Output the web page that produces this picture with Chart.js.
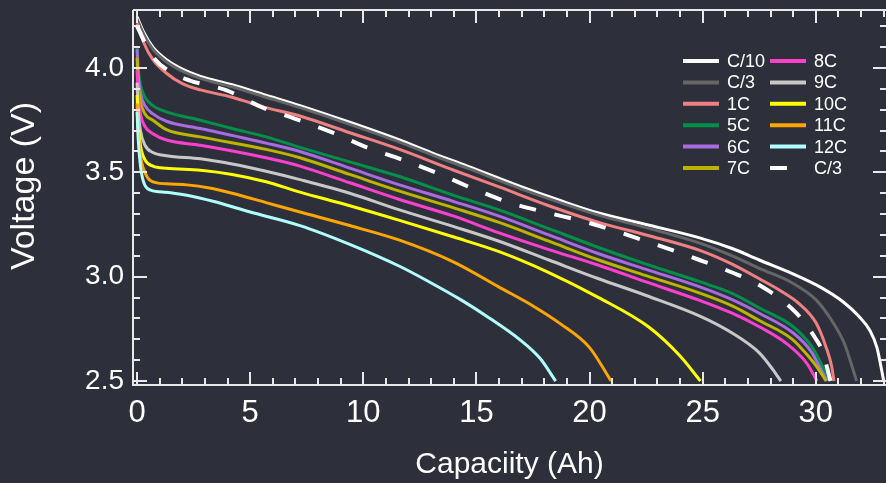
<!DOCTYPE html>
<html>
<head>
<meta charset="utf-8">
<title>Discharge curves</title>
<script src="https://cdn.jsdelivr.net/npm/chart.js@4.4.0/dist/chart.umd.min.js"></script>
<style>
  html, body { margin: 0; padding: 0; background: #2d2f3b; }
  #wrap { width: 886px; height: 483px; }
  canvas { display: block; background: #2d2f3b; }
</style>
</head>
<body>
<div id="wrap"><canvas id="dischargeChart" width="886" height="483"></canvas></div>
<script>
// Axis ranges (Ah / V)
const X_MIN = -0.18, X_MAX = 33.1;
const Y_MIN = 2.481, Y_MAX = 4.278;

// Series labels in legend order
const seriesLabels = ['C/10', 'C/3', '1C', '5C', '6C', '7C', '8C', '9C', '10C', '11C', '12C', 'C/3'];
const seriesColors = ['#ffffff', '#666666', '#f08080', '#00904a', '#a66ce0', '#bdb400',
                      '#ff40cc', '#c8c8c8', '#ffff00', '#ffa500', '#b0ffff', '#ffffff'];

// Capacity (Ah), voltage (V) pairs
const rateC10 = [[0,4.245],[0.3,4.17],[0.7,4.10],[1.3,4.04],[2,3.995],[2.8,3.96],[4.2,3.92],[5.7,3.87],[7.2,3.82],
  [9.4,3.74],[11.6,3.655],[13,3.595],[14.6,3.53],[17,3.43],[18.7,3.365],[20.4,3.305],[22.5,3.25],[24.9,3.185],
  [26.3,3.135],[27.5,3.08],[28.96,3.015],[30.2,2.95],[31.2,2.88],[31.9,2.81],[32.4,2.74],[32.7,2.66],[33.0,2.5]];
const rateC3 = [[0,4.235],[0.3,4.16],[0.7,4.09],[1.3,4.03],[2,3.985],[2.8,3.95],[4.2,3.91],[5.7,3.86],[7.2,3.81],
  [9.4,3.73],[11.6,3.645],[13,3.585],[14.6,3.52],[17,3.42],[18.7,3.355],[20.4,3.295],[22.5,3.235],[24.9,3.16],
  [26.3,3.10],[27.5,3.04],[28.96,2.97],[30,2.89],[30.7,2.79],[31.26,2.68],[31.6,2.57],[31.8,2.5]];
const rate1C = [[0,4.215],[0.3,4.12],[0.7,4.04],[1.3,3.975],[2,3.925],[2.8,3.895],[4.2,3.86],[5.7,3.81],[7.2,3.77],
  [9.4,3.69],[11.6,3.61],[14,3.51],[16,3.43],[18.2,3.34],[20.4,3.26],[22.5,3.20],[24.9,3.125],[26.3,3.06],
  [27.5,2.99],[28.4,2.935],[29.27,2.87],[30,2.78],[30.46,2.66],[30.7,2.57],[30.8,2.5]];
const rate5C = [[0,4.10],[0.05,4.0],[0.15,3.92],[0.35,3.86],[0.7,3.82],[1.3,3.79],[2.8,3.75],[4.2,3.71],[5.7,3.67],
  [7.2,3.62],[9.4,3.55],[11.6,3.48],[14,3.39],[16,3.32],[18.2,3.23],[20.4,3.14],[22.5,3.06],[24.9,2.975],
  [26.3,2.92],[27.5,2.85],[29,2.76],[29.85,2.66],[30.2,2.59],[30.6,2.5]];
const rate6C = [[0,4.09],[0.05,3.97],[0.15,3.88],[0.35,3.82],[0.7,3.78],[1.3,3.745],[2.8,3.71],[5.7,3.64],[7.2,3.60],
  [9.4,3.52],[11.6,3.44],[14,3.36],[16,3.29],[18.2,3.20],[20.4,3.11],[22.5,3.035],[24.9,2.95],[26.3,2.89],
  [27.5,2.825],[29,2.73],[29.8,2.64],[30.2,2.56],[30.5,2.5]];
const rate7C = [[0,4.05],[0.05,3.93],[0.15,3.84],[0.35,3.78],[0.7,3.75],[1.3,3.705],[2.8,3.67],[5.7,3.61],[7.2,3.57],
  [9.4,3.49],[11.6,3.41],[14,3.33],[16,3.26],[18.2,3.17],[20.4,3.08],[22.5,3.005],[24.9,2.92],[26.3,2.86],
  [27.5,2.79],[28.96,2.70],[29.7,2.615],[30.1,2.56],[30.45,2.5]];
const rate8C = [[0,3.99],[0.05,3.87],[0.15,3.78],[0.35,3.72],[0.7,3.685],[1.3,3.655],[2.8,3.63],[5.7,3.57],[7.2,3.53],
  [9.4,3.45],[11.6,3.37],[14,3.29],[16,3.21],[18.2,3.13],[20.4,3.055],[22.5,2.975],[24.9,2.885],[26.3,2.825],
  [27.5,2.76],[28.7,2.68],[29.6,2.585],[30.05,2.5]];
const rate9C = [[0,3.93],[0.05,3.80],[0.15,3.70],[0.35,3.63],[0.7,3.595],[1.3,3.58],[2.8,3.565],[4.2,3.54],[5.7,3.505],
  [7.2,3.465],[9.4,3.40],[11.6,3.32],[14,3.24],[16,3.17],[18.2,3.08],[20.4,2.99],[22.5,2.91],[24.9,2.81],
  [26.3,2.73],[27.5,2.635],[28.1,2.555],[28.45,2.5]];
const rate10C = [[0,3.87],[0.05,3.74],[0.15,3.63],[0.35,3.56],[0.7,3.53],[1.3,3.52],[2.8,3.51],[4.2,3.49],[5.7,3.455],
  [7.2,3.405],[9.4,3.34],[11.6,3.27],[14,3.19],[16,3.12],[18.2,3.02],[20.4,2.90],[22.6,2.76],[24,2.62],[24.9,2.5]];
const rate11C = [[0,3.83],[0.05,3.70],[0.15,3.58],[0.35,3.50],[0.6,3.46],[1.3,3.445],[2.2,3.44],[3.2,3.425],[4.2,3.40],
  [5.7,3.355],[7.2,3.31],[9.4,3.245],[11.6,3.175],[14,3.07],[16,2.95],[17.5,2.86],[18.7,2.775],[20,2.66],[20.95,2.5]];
const rate12C = [[0,3.79],[0.05,3.66],[0.15,3.53],[0.3,3.45],[0.6,3.415],[1.3,3.405],[2.2,3.39],[3.4,3.36],[5,3.31],
  [7.2,3.245],[9.4,3.155],[11.6,3.05],[13,2.97],[14.3,2.89],[15.6,2.80],[16.9,2.70],[17.8,2.61],[18.5,2.5]];
const rateC3dash = [[0,4.20],[0.66,4.06],[1.5,3.98],[2.34,3.94],[3.9,3.895],[5.56,3.81],[6.9,3.76],[8.65,3.69],
  [10.15,3.62],[11.74,3.56],[13.4,3.49],[15,3.415],[16.6,3.35],[18.2,3.305],[19.9,3.26],[22.5,3.17],[24.86,3.08],
  [26.3,3.02],[27.5,2.96],[29.1,2.83],[29.95,2.71],[30.3,2.64],[30.6,2.52],[30.65,2.5]];

const seriesData = [rateC10, rateC3, rate1C, rate5C, rate6C, rate7C, rate8C, rate9C, rate10C, rate11C, rate12C, rateC3dash];

const FONT = "'Liberation Sans', Arial, sans-serif";
const AXIS_COLOR = '#e8e8e8';
const Y_TITLE = 'Voltage (V)';

// Inward tick marks and frame, drawn from the scales
const frameTicks = {
  id: 'frameTicks',
  afterDraw(chart) {
    const { ctx, chartArea: a, scales: { x, y } } = chart;
    ctx.save();
    ctx.strokeStyle = AXIS_COLOR;
    ctx.lineWidth = 2;
    ctx.beginPath();
    ctx.moveTo(a.left, a.top); ctx.lineTo(a.right + 1, a.top);
    ctx.moveTo(a.left, a.top); ctx.lineTo(a.left, a.bottom);
    ctx.moveTo(a.left - 1, a.bottom); ctx.lineTo(a.right + 1, a.bottom);
    ctx.moveTo(a.right + 1, a.top); ctx.lineTo(a.right + 1, a.bottom);
    for (let v = Math.ceil(x.min); v <= Math.floor(x.max); v++) {
      const px = Math.round(x.getPixelForValue(v));
      const len = v % 5 === 0 ? 13 : 7;
      ctx.moveTo(px, a.bottom); ctx.lineTo(px, a.bottom - len);
      ctx.moveTo(px, a.top); ctx.lineTo(px, a.top + len);
    }
    for (let k = Math.ceil(y.min * 10); k <= Math.floor(y.max * 10); k++) {
      const py = Math.round(y.getPixelForValue(k / 10));
      const len = k % 5 === 0 ? 14 : 7;
      ctx.moveTo(a.left, py); ctx.lineTo(a.left + len, py);
      ctx.moveTo(a.right + 1, py); ctx.lineTo(a.right + 1 - len, py);
    }
    ctx.stroke();

    // y axis title, sitting a little above the middle of the axis
    ctx.translate(25, 186);
    ctx.rotate(-Math.PI / 2);
    ctx.font = '34px ' + FONT;
    ctx.fillStyle = '#ffffff';
    ctx.textAlign = 'center';
    ctx.textBaseline = 'middle';
    ctx.fillText(Y_TITLE, 0, 0);
    ctx.restore();
  }
};

// Two-column legend in the upper right of the plot
const cornerLegend = {
  id: 'cornerLegend',
  afterDraw(chart) {
    const { ctx } = chart;
    const cols = [{ x: 683, tx: 727 }, { x: 770, tx: 814 }];
    ctx.save();
    ctx.font = '18px ' + FONT;
    ctx.textBaseline = 'middle';
    ctx.fillStyle = '#ffffff';
    chart.data.datasets.forEach((ds, i) => {
      const col = cols[Math.floor(i / 6)];
      const rowY = 61 + (i % 6) * 21.4;
      ctx.strokeStyle = ds.borderColor;
      ctx.lineWidth = 4;
      ctx.setLineDash(ds.borderDash || []);
      ctx.beginPath();
      ctx.moveTo(col.x, rowY);
      ctx.lineTo(col.x + 36, rowY);
      ctx.stroke();
      ctx.setLineDash([]);
      ctx.fillText(ds.label, col.tx, rowY + 1);
    });
    ctx.restore();
  }
};

const datasets = seriesLabels.map((label, i) => ({
  label: label,
  data: seriesData[i].map(p => ({ x: p[0], y: p[1] })),
  borderColor: seriesColors[i],
  backgroundColor: seriesColors[i],
  borderWidth: i === 11 ? 4 : 3,
  borderDash: i === 11 ? [17, 19] : [],
  pointRadius: 0,
  fill: false,
  cubicInterpolationMode: 'monotone',
  order: seriesLabels.length - i  // later series drawn on top
}));

const ctx = document.getElementById('dischargeChart').getContext('2d');
new Chart(ctx, {
  type: 'line',
  data: { datasets: datasets },
  options: {
    responsive: false,
    animation: false,
    events: [],
    layout: { autoPadding: false, padding: { top: 10, right: 0, left: 0, bottom: 0 } },
    plugins: { legend: { display: false }, tooltip: { enabled: false } },
    scales: {
      x: {
        type: 'linear',
        min: X_MIN,
        max: X_MAX,
        grid: { display: false, drawTicks: false },
        border: { display: false },
        ticks: {
          stepSize: 5,
          includeBounds: false,
          maxRotation: 0,
          color: '#ffffff',
          padding: 10,
          font: { family: FONT, size: 31 }
        },
        title: {
          display: true,
          text: 'Capaciity (Ah)',
          color: '#ffffff',
          font: { family: FONT, size: 30 },
          padding: { top: 0, bottom: 0 }
        },
        afterFit(scale) {
          scale.height = 98;
          scale.paddingLeft = 0;
          scale.paddingRight = 0;
        }
      },
      y: {
        type: 'linear',
        min: Y_MIN,
        max: Y_MAX,
        grid: { display: false, drawTicks: false },
        border: { display: false },
        ticks: {
          stepSize: 0.5,
          includeBounds: false,
          color: '#ffffff',
          padding: 9,
          font: { family: FONT, size: 28 },
          callback: v => v.toFixed(1)
        },
        title: { display: false },
        afterFit(scale) {
          scale.width = 133;
          scale.paddingTop = 0;
          scale.paddingBottom = 0;
        }
      }
    }
  },
  plugins: [frameTicks, cornerLegend]
});
</script>
</body>
</html>
